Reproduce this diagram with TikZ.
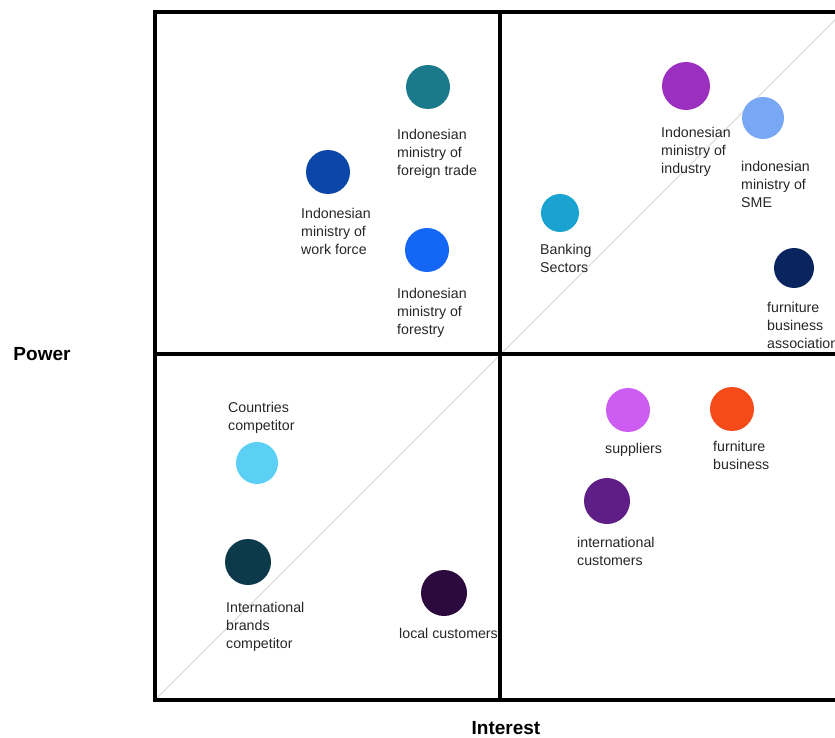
\documentclass[tikz,border=0pt]{standalone}
\usepackage{fontspec}
\setmainfont{Liberation Sans}
\begin{document}
\begin{tikzpicture}[x=1pt,y=-1pt,
  dot/.style={circle,inner sep=0pt,minimum size=#1},
  lbl/.style={anchor=north west,inner sep=0pt,align=left,font=\fontsize{14.2}{18}\selectfont,text=black!85},
  axis/.style={font=\fontsize{19}{22}\bfseries\selectfont,inner sep=0pt},
  grid/.style={line width=3.5pt,black}]
\useasboundingbox (0,0) rectangle (835,738);
\begin{scope}
\clip (0,0) rectangle (835,738);
% diagonal
\coordinate (d0) at (155,700);
\coordinate (d1) at (845,10);
\draw[black!13,line width=1.2pt] (d0) -- (d1);
% grid
\coordinate (tl) at (155,12);
\coordinate (tr) at (840,12);
\coordinate (bl) at (155,700);
\coordinate (br) at (840,700);
\coordinate (mt) at (500,12);
\coordinate (mb) at (500,700);
\coordinate (ml) at (155,354);
\coordinate (mr) at (840,354);
\draw[grid] (tr) -- (tl) -- (bl) -- (br);
\draw[grid] (mt) -- (mb);
\draw[grid] (ml) -- (mr);
% circles
\node[dot=44pt,fill={rgb,255:red,26;green,122;blue,140}] (ft) at (428,87) {};
\node[dot=44pt,fill={rgb,255:red,10;green,71;blue,168}] (wf) at (328,172) {};
\node[dot=44pt,fill={rgb,255:red,20;green,102;blue,245}] (fo) at (427,250) {};
\node[dot=48pt,fill={rgb,255:red,155;green,47;blue,192}] (in) at (686,86) {};
\node[dot=42pt,fill={rgb,255:red,120;green,168;blue,245}] (sme) at (763,118) {};
\node[dot=38pt,fill={rgb,255:red,26;green,163;blue,209}] (bk) at (560,213) {};
\node[dot=40pt,fill={rgb,255:red,10;green,36;blue,96}] (fa) at (794,268) {};
\node[dot=42pt,fill={rgb,255:red,92;green,207;blue,245}] (cc) at (257,463) {};
\node[dot=46pt,fill={rgb,255:red,12;green,58;blue,74}] (ib) at (248,562) {};
\node[dot=46pt,fill={rgb,255:red,45;green,10;blue,61}] (lc) at (444,593) {};
\node[dot=44pt,fill={rgb,255:red,204;green,92;blue,242}] (su) at (628,410) {};
\node[dot=44pt,fill={rgb,255:red,245;green,74;blue,26}] (fb) at (732,409) {};
\node[dot=46pt,fill={rgb,255:red,94;green,30;blue,133}] (ic) at (607,501) {};
% labels
\node[lbl] (ftl) at (397,129) {Indonesian\\ministry of\\foreign trade};
\node[lbl] (wfl) at (301,208) {Indonesian\\ministry of\\work force};
\node[lbl] (fol) at (397,288) {Indonesian\\ministry of\\forestry};
\node[lbl] (inl) at (661,127) {Indonesian\\ministry of\\industry};
\node[lbl] (smel) at (741,161) {indonesian\\ministry of\\SME};
\node[lbl] (bkl) at (540,244) {Banking\\Sectors};
\node[lbl] (fal) at (767,302) {furniture\\business\\association};
\node[lbl] (ccl) at (228,402) {Countries\\competitor};
\node[lbl] (ibl) at (226,602) {International\\brands\\competitor};
\node[lbl] (lcl) at (399,628) {local customers};
\node[lbl] (sul) at (605,443) {suppliers};
\node[lbl] (fbl) at (713,441) {furniture\\business};
\node[lbl] (icl) at (577,537) {international\\customers};
\end{scope}
\node[axis] (power) at (42,354) {Power};
\node[axis] (interest) at (506,728) {Interest};
\end{tikzpicture}
\end{document}
